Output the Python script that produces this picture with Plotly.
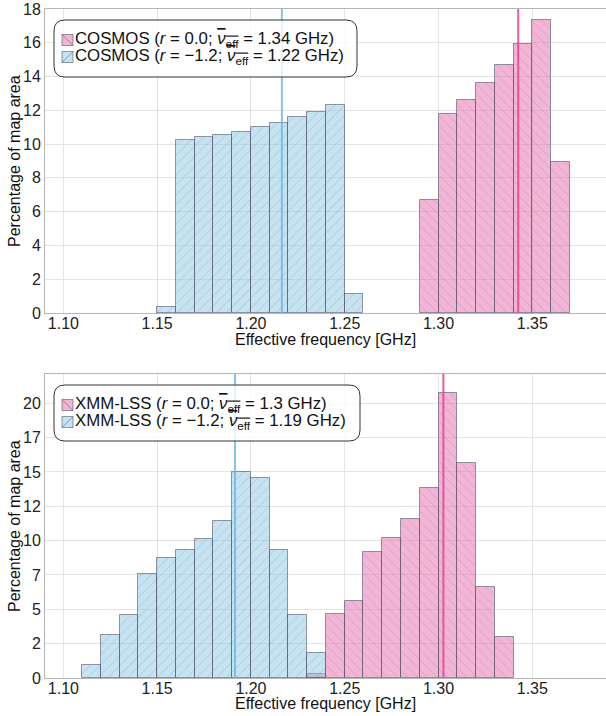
import plotly.graph_objects as go

# ---------------- data ----------------
bin_width = 0.01

cosmos_r0_left = [1.29, 1.30, 1.31, 1.32, 1.33, 1.34, 1.35, 1.36]
cosmos_r0_pct = [6.71, 11.80, 12.62, 13.59, 14.68, 15.90, 17.37, 8.95]

cosmos_rm_left = [1.15, 1.16, 1.17, 1.18, 1.19, 1.20, 1.21, 1.22, 1.23, 1.24, 1.25]
cosmos_rm_pct = [0.36, 10.24, 10.40, 10.56, 10.73, 11.03, 11.27, 11.59, 11.90, 12.34, 1.11]

xmm_r0_left = [1.23, 1.24, 1.25, 1.26, 1.27, 1.28, 1.29, 1.30, 1.31, 1.32, 1.33]
xmm_r0_pct = [0.31, 4.65, 5.57, 9.16, 10.18, 11.56, 13.86, 20.73, 15.64, 6.59, 2.95]

xmm_rm_left = [1.11, 1.12, 1.13, 1.14, 1.15, 1.16, 1.17, 1.18, 1.19, 1.20, 1.21, 1.22, 1.23]
xmm_rm_pct = [0.95, 3.15, 4.60, 7.58, 8.77, 9.33, 10.13, 11.44, 14.98, 14.57, 9.33, 4.58, 1.82]

cosmos_means = [1.3425, 1.2165]   # r=0.0, r=-1.2
xmm_means = [1.3026, 1.1915]

OV = "<span style='text-decoration:overline'><i>ν</i><sub>eff</sub></span>"
cosmos_labels = ["COSMOS (<i>r</i> = 0.0; " + OV + " = 1.34 GHz)",
                 "COSMOS (<i>r</i> = −1.2; " + OV + " = 1.22 GHz)"]
xmm_labels = ["XMM-LSS (<i>r</i> = 0.0; " + OV + " = 1.3 GHz)",
              "XMM-LSS (<i>r</i> = −1.2; " + OV + " = 1.19 GHz)"]

x_title = "Effective frequency [GHz]"
y_title = "Percentage of map area"

x_ticks = [1.10, 1.15, 1.20, 1.25, 1.30, 1.35]
top_y_ticks = [0, 2, 4, 6, 8, 10, 12, 14, 16, 18]
bot_y_ticks = [0, 2.5, 5, 7.5, 10, 12.5, 15, 17.5, 20]
bot_y_ticktext = ["0", "2", "5", "7", "10", "12", "15", "17", "20"]

# ---------------- styling ----------------
W, H = 606, 716
ML, MR, MT, MB = 45, 0, 9, 38
FONT = "Liberation Sans, Arial, Helvetica, sans-serif"
PINK_FILL = "rgba(232,120,180,0.55)"
BLUE_FILL = "rgba(140,200,228,0.5)"
PINK_LINE = "rgba(232,72,150,0.9)"
BLUE_LINE = "rgba(110,185,225,0.85)"
HATCH = "rgba(80,80,105,0.5)"
EDGE = "rgba(70,70,95,0.55)"


def px2x(px):
    return (px - ML) / (W - ML - MR)


def px2y(py):
    return (H - MB - py) / (H - MT - MB)


fig = go.Figure()


def add_hist(left, vals, fill, shape, xa, ya):
    fig.add_trace(go.Bar(
        x=left, y=vals, width=bin_width, offset=0,
        marker=dict(color=fill, line=dict(color=EDGE, width=1),
                    pattern=dict(shape=shape, fgcolor=HATCH, bgcolor=fill,
                                 size=7, solidity=0.1)),
        xaxis=xa, yaxis=ya, showlegend=False, hoverinfo="skip"))


add_hist(cosmos_r0_left, cosmos_r0_pct, PINK_FILL, "\\", "x", "y")
add_hist(cosmos_rm_left, cosmos_rm_pct, BLUE_FILL, "/", "x", "y")
add_hist(xmm_r0_left, xmm_r0_pct, PINK_FILL, "\\", "x2", "y2")
add_hist(xmm_rm_left, xmm_rm_pct, BLUE_FILL, "/", "x2", "y2")

shapes = []
for xr, yr, means in (("x", "y domain", cosmos_means), ("x2", "y2 domain", xmm_means)):
    for m, col in zip(means, (PINK_LINE, BLUE_LINE)):
        shapes.append(dict(type="line", xref=xr, yref=yr, x0=m, x1=m, y0=0, y1=1,
                           line=dict(color=col, width=2), layer="above"))


def rounded_box(l, t, r, b, rad):
    rx = rad / (W - ML - MR)
    ry = rad / (H - MT - MB)
    x0, x1 = px2x(l), px2x(r)
    y0, y1 = px2y(b), px2y(t)
    p = (f"M{x0+rx},{y1} L{x1-rx},{y1} Q{x1},{y1} {x1},{y1-ry} "
         f"L{x1},{y0+ry} Q{x1},{y0} {x1-rx},{y0} L{x0+rx},{y0} "
         f"Q{x0},{y0} {x0},{y0+ry} L{x0},{y1-ry} Q{x0},{y1} {x0+rx},{y1} Z")
    return dict(type="path", xref="paper", yref="paper", path=p,
                fillcolor="rgba(255,255,255,0.8)",
                line=dict(color="#333333", width=1), layer="above")


annotations = []


def legend(box, rows, labels):
    shapes.append(rounded_box(*box, 11))
    for (cy, fill, hatch_dir), lab in zip(rows, labels):
        s0, s1 = 62, 73
        shapes.append(dict(type="rect", xref="paper", yref="paper",
                           x0=px2x(s0), x1=px2x(s1), y0=px2y(cy + 5.5), y1=px2y(cy - 5.5),
                           fillcolor=fill, line=dict(color=EDGE, width=1), layer="above"))
        if hatch_dir == "\\":
            pth = f"M{px2x(s0)},{px2y(cy-5.5)} L{px2x(s1)},{px2y(cy+5.5)}"
        else:
            pth = f"M{px2x(s0)},{px2y(cy+5.5)} L{px2x(s1)},{px2y(cy-5.5)}"
        shapes.append(dict(type="path", xref="paper", yref="paper", path=pth,
                           line=dict(color=HATCH, width=1), layer="above"))
        annotations.append(dict(xref="paper", yref="paper", x=px2x(73), y=px2y(cy),
                                xanchor="left", yanchor="middle", showarrow=False,
                                text=lab, font=dict(family=FONT, size=16.8, color="#111111")))


legend((54, 20, 357, 77), [(40, PINK_FILL, "\\"), (57, BLUE_FILL, "/")], cosmos_labels)
legend((54, 385, 360, 441), [(405, PINK_FILL, "\\"), (422, BLUE_FILL, "/")], xmm_labels)

# axis titles
for cy in (339, 703):
    annotations.append(dict(xref="paper", yref="paper", x=0.5, y=px2y(cy),
                            xanchor="center", yanchor="middle", showarrow=False,
                            text=x_title, font=dict(family=FONT, size=16, color="#111111")))
for cy in (161, 526):
    annotations.append(dict(xref="paper", yref="paper", x=px2x(14), y=px2y(cy),
                            xanchor="center", yanchor="middle", showarrow=False,
                            textangle=-90,
                            text=y_title, font=dict(family=FONT, size=16, color="#111111")))

top_dom = [px2y(313), 1.0]
bot_dom = [0.0, px2y(374)]
x_range = [1.0902, 1.3893]

axis_common = dict(showgrid=True, gridcolor="#e4e4e4", gridwidth=1, zeroline=False,
                   showline=True, linecolor="#b5b5b5", linewidth=1, automargin=False,
                   tickfont=dict(family=FONT, size=16, color="#222222"),
                   ticks="")

fig.update_layout(
    width=W, height=H,
    margin=dict(l=ML, r=MR, t=MT, b=MB),
    paper_bgcolor="white", plot_bgcolor="white",
    barmode="overlay", bargap=0,
    showlegend=False,
    font=dict(family=FONT, size=16, color="#111111"),
    xaxis=dict(domain=[0, 1], anchor="y", range=x_range, tickvals=x_ticks,
               tickformat=".2f", mirror=True, ticklabelstandoff=-4, **axis_common),
    yaxis=dict(domain=top_dom, anchor="x", range=[0, 18], tickvals=top_y_ticks,
               **axis_common),
    xaxis2=dict(domain=[0, 1], anchor="y2", range=x_range, tickvals=x_ticks,
                tickformat=".2f", mirror=True, ticklabelstandoff=-4, **axis_common),
    yaxis2=dict(domain=bot_dom, anchor="x2", range=[0, 22.13], tickvals=bot_y_ticks,
                ticktext=bot_y_ticktext, **axis_common),
    shapes=shapes,
    annotations=annotations,
)

fig.write_html("out.html", config={"displayModeBar": False},
               post_script="document.body.style.margin='0';document.body.style.overflow='hidden';")
